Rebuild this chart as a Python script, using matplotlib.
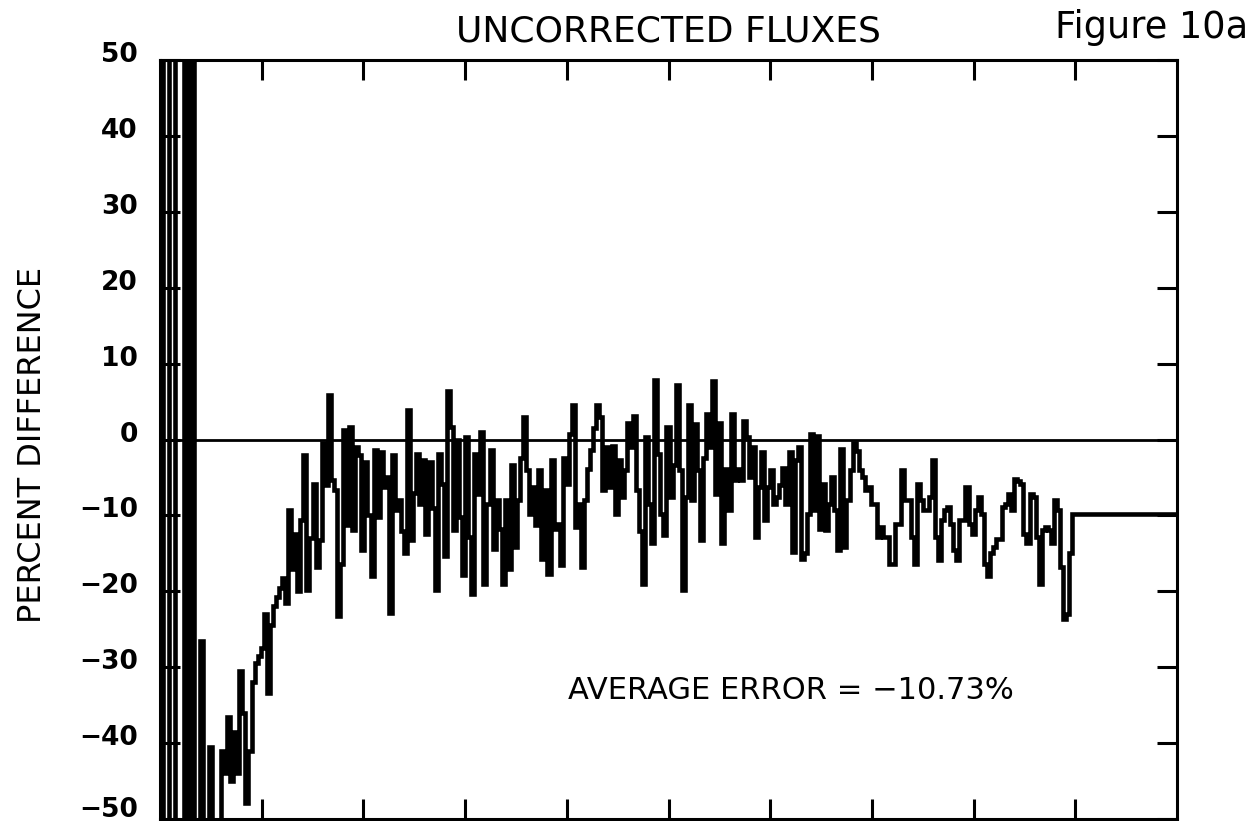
import numpy as np
import matplotlib
matplotlib.use("Agg")
import matplotlib.pyplot as plt
from matplotlib.transforms import ScaledTranslation

# Percent difference per channel (uncorrected fluxes); channel spacing DX
DX = 0.3
lead_vals = [80, -80, -80, 80, 80, -80, -80, -80, 80, -80, 80, -80, -70, -26.6, -70, -70, -40.5, -70, -70, -70]
rise_vals = [-41, -44, -36.5, -45, -38.6, -44, -30.5, -36, -47.9, -41, -32, -29.5, -28.5, -27.5, -23, -33.4,
             -24.5, -22, -20.7, -19.5, -18.3, -21.6, -9.3, -17, -12.4, -20, -10.6, -2.1, -19.8, -13, -5.9, -16.8,
             -13.2, -0.4, -6, 5.9, -5.4, -6.7, -23.3, -16.4]
band_a_vals = [1.3, -11.3, 1.7, -11.9, -1, -2, -14.5, -3, -10, -18, -1.4, -10.2, -1.7, -6.3, -5, -22.9, -2.1, -9.3,
               -8, -12, -15, 3.9, -13.2, -7, -1.9, -8.5, -2.7, -12.4, -3, -9, -19.8, -1.9, -5.9, -15.4, 6.4, 1.6,
               -11.9, -0.1, -10.2, -17.8]
band_b_vals = [0.3, -12.8, -20.3, -1.9, -7.2, 1, -19, -8.5, -1.4, -14.4, -8, -11.8, -19, -8, -17.1, -3.4, -14.1,
               -8, -2.4, 3, -4, -9.8, -6.3, -11.3, -4, -15.7, -6.7, -17.7, -2.7, -11.8, -11.1, -16.5, -2.4, -5.9,
               0.7, 4.6, -11.5, -8.5, -16.8, -8]
band_c_vals = [-3.9, -1.4, 1.5, 4.5, 2.9, -6.7, -1, -6.3, -0.8, -9.8, -2.7, -7.6, -4, 2.2, -1, 3.1, -6.7, -12, -19,
               0.3, -8.5, -13.7, 7.9, -1.9, -9.8, -12.6, 1.6, -7.6, -3.3, 7.2, -4, -19.8, -7.6, 4.5, -8, 2, -4,
               -13.2, -2.4, 3.3]
band_d_vals = [-1, 7.7, -7.2, 2.2, -13.7, -3.9, -9.3, 3.3, -5.4, -3.9, -5.4, 2.5, 0.3, -5, -1, -12.8, -6.3, -1.7,
               -10.6, -6.3, -4, -8.5, -7.6, -6, -3.7, -8.5, -1.7, -14.8, -2.7, -1, -15.7, -15, -9.8, 0.7, -9.3,
               0.4, -11.8, -5.9, -11.9, -8.5]
tail_a_vals = [-5, -9.3, -14.5, -1.3, -14.1, -8, -4, -0.5, -1.5, -4, -5, -6.7, -6.3, -8.5, -8.5, -12.8, -11.5,
               -12.8, -12.8, -16.4, -16.4, -11.1, -11.1, -4, -8, -8, -12.8, -16.4, -5.9, -8, -9.3, -9.3, -7.6,
               -2.7, -12.8, -15.9, -10.6, -9.3, -8.9, -11.1]
tail_b_vals = [-14.5, -15.9, -10.6, -10.6, -6.3, -11.1, -12.4, -9.3, -7.6, -9.8, -16.4, -18, -15, -14.1, -13.1,
               -13.1, -8.9, -8.5, -7.2, -9.3, -5.2, -5.5, -5.9, -12.4, -13.7, -7.2, -7.6, -12.8, -19, -11.9,
               -11.5, -11.9, -13.7, -8, -9.3, -16.8, -23.7, -23, -15, -9.8]
X_END = 100.0

y_ticks = [50, 40, 30, 20, 10, 0, -10, -20, -30, -40, -50]
x_ticks = [10, 20, 30, 40, 50, 60, 70, 80, 90]

vals = np.array(lead_vals + rise_vals + band_a_vals + band_b_vals + band_c_vals
                + band_d_vals + tail_a_vals + tail_b_vals, dtype=float)
chan = np.arange(len(vals)) * DX
xs = np.append(chan, X_END)
ys = np.append(vals, vals[-1])

W, H = 1254, 821
fig = plt.figure(figsize=(W / 100, H / 100), dpi=100)
ax = fig.add_axes([160 / W, 1 - 819 / H, (1177 - 160) / W, (819 - 60) / H])

ax.plot(xs, ys, drawstyle="steps-post", color="black", lw=3.3,
        solid_joinstyle="miter", solid_capstyle="butt")
ax.axhline(0, color="black", lw=2.0)

ax.set_xlim(0, 100)
ax.set_ylim(-50, 50)
ax.set_xticks(x_ticks)
ax.set_xticklabels([])
ax.set_yticks(y_ticks)
ax.set_yticklabels([f"{v:d}".replace("-", "\u2212") for v in y_ticks],
                   fontsize=19, fontweight="bold", family="DejaVu Sans")
ax.tick_params(axis="both", direction="in", length=14.5, width=2.2,
               top=True, right=True, bottom=True, left=True, pad=16)
for sp in ax.spines.values():
    sp.set_linewidth(2.2)

# tick labels sit a little above their ticks; the lowest one a bit more
labels = ax.get_yticklabels()
for lab in labels:
    lab.set_transform(lab.get_transform() + ScaledTranslation(0, 8 / 100, fig.dpi_scale_trans))
labels[-1].set_transform(labels[-1].get_transform() + ScaledTranslation(0, 4 / 100, fig.dpi_scale_trans))

fig.text(668 / W, 1 - 32 / H, "UNCORRECTED FLUXES", ha="center", va="center",
         fontsize=26, family="DejaVu Sans")
fig.text(1152 / W, 1 - 28 / H, "Figure 10a", ha="center", va="center",
         fontsize=26.5, family="DejaVu Sans")
fig.text(33 / W, 1 - 445 / H, "PERCENT DIFFERENCE", ha="center", va="center",
         rotation=90, fontsize=23, family="DejaVu Sans")
ax.text((791 - 160) / 1017, 1 - (690 - 60) / 759, "AVERAGE ERROR = \u221210.73%",
        transform=ax.transAxes, ha="center", va="center", fontsize=22, family="DejaVu Sans")

fig.savefig("out.png", dpi=100)
